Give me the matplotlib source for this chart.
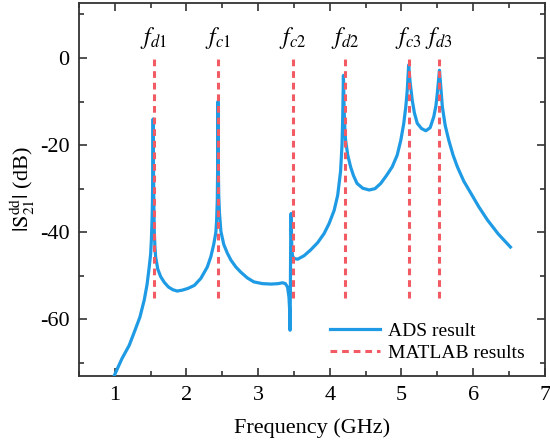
import matplotlib
matplotlib.use("Agg")
import matplotlib.pyplot as plt
from matplotlib.ticker import MultipleLocator

plt.rcParams['font.family'] = ['Liberation Serif', 'DejaVu Serif']
plt.rcParams['mathtext.fontset'] = 'stix'
plt.rcParams['axes.unicode_minus'] = False

# ADS simulated |S21dd| (dB)
freq = [0.99, 1.10, 1.20, 1.27, 1.35, 1.41, 1.45, 1.48, 1.50, 1.51, 1.52, 1.525, 1.53, 1.535,
        1.54, 1.545, 1.55, 1.56, 1.57, 1.60, 1.64, 1.69, 1.75, 1.81, 1.87, 1.94, 2.02, 2.11,
        2.20, 2.29, 2.34, 2.38, 2.41, 2.42, 2.43, 2.435, 2.44, 2.445, 2.45, 2.46, 2.48, 2.52,
        2.57, 2.62, 2.69, 2.76, 2.85, 2.94, 3.06, 3.18, 3.28, 3.34, 3.38, 3.41, 3.43, 3.44,
        3.445, 3.45, 3.455, 3.46, 3.465, 3.47, 3.48, 3.50, 3.55, 3.64, 3.73, 3.83, 3.92, 3.99,
        4.06, 4.11, 4.15, 4.17, 4.18, 4.19, 4.20, 4.21, 4.22, 4.25, 4.29, 4.33, 4.38, 4.46,
        4.55, 4.63, 4.71, 4.79, 4.87, 4.94, 4.99, 5.03, 5.06, 5.08, 5.10, 5.12, 5.15, 5.18,
        5.22, 5.28, 5.34, 5.40, 5.45, 5.48, 5.50, 5.52, 5.53, 5.55, 5.57, 5.61, 5.66, 5.72,
        5.78, 5.87, 5.97, 6.08, 6.20, 6.35, 6.52]
s21 = [-73.0, -69.0, -66.0, -63.0, -59.5, -55.6, -52.0, -48.0, -45.0, -41.8, -37.0, -33.0, -25.0, -14.0,
       -26.0, -34.0, -39.5, -43.5, -45.7, -48.5, -50.2, -51.5, -52.6, -53.2, -53.5, -53.3, -52.9, -52.2,
       -50.6, -48.0, -45.6, -42.8, -40.0, -37.5, -32.6, -25.0, -10.0, -26.0, -31.5, -35.5, -39.8, -42.8,
       -44.8, -46.4, -48.0, -49.2, -50.5, -51.4, -51.8, -51.9, -51.8, -51.6, -51.8, -52.6, -54.9, -58.0,
       -62.5, -52.0, -40.0, -35.7, -40.0, -44.0, -45.5, -46.0, -46.2, -45.4, -44.1, -42.4, -40.3, -38.0,
       -35.0, -31.5, -26.0, -20.0, -13.5, -4.0, -12.0, -16.5, -18.9, -22.3, -25.0, -27.0, -28.8, -29.9,
       -30.3, -30.0, -28.8, -27.0, -25.0, -22.3, -18.9, -15.2, -11.2, -7.5, -1.6, -5.5, -9.7, -12.6,
       -15.0, -16.2, -16.7, -16.0, -13.5, -11.0, -8.1, -4.5, -2.8, -7.0, -11.2, -15.5, -18.9, -22.3,
       -25.0, -28.3, -31.1, -34.2, -37.2, -40.4, -43.4]

# MATLAB resonance frequencies (GHz) and their labels
res_freq = [1.54, 2.44, 3.48, 4.21, 5.10, 5.52]
res_labels = [r'$f_{d1}$', r'$f_{c1}$', r'$f_{c2}$', r'$f_{d2}$', r'$f_{c3}$', r'$f_{d3}$']
res_top = 0
res_bottom = -55

fig = plt.figure(figsize=(5.5, 4.46), dpi=100)
ax = fig.add_axes([0.1436, 0.157, 0.847, 0.836])

blue = '#1E9BE4'
red = '#F25A64'

ax.plot(freq, s21, color=blue, lw=2.3, label='ADS result', zorder=3)
for i, f in enumerate(res_freq):
    ax.plot([f, f], [res_bottom, res_top], color=red, lw=2.2, ls=(0, (2.2, 1.6)),
            label='MATLAB results' if i == 0 else None, zorder=4)
    ax.text(f, 1.6, res_labels[i], ha='center', va='bottom', fontsize=17)

ax.set_xlim(0.5, 7)
ax.set_ylim(-73, 12.6)
ax.xaxis.set_minor_locator(MultipleLocator(0.5))
ax.yaxis.set_minor_locator(MultipleLocator(10))
ax.set_xticks([1, 2, 3, 4, 5, 6, 7])
ax.set_yticks([0, -20, -40, -60])
ax.tick_params(which='both', direction='in', top=True, right=True, labelsize=16, width=1.2,
               color='#333333', pad=7)
ax.tick_params(which='major', length=6)
ax.tick_params(which='minor', length=3.5)
for sp in ax.spines.values():
    sp.set_linewidth(1.3)
    sp.set_color('#333333')

ax.set_xlabel('Frequency (GHz)', fontsize=16, labelpad=10)
ax.set_ylabel(r'$|\mathrm{S}_{21}^{\mathrm{dd}}|$ (dB)', fontsize=16, labelpad=2)

leg = ax.legend(loc='lower right', bbox_to_anchor=(0.995, -0.01), frameon=False, fontsize=14,
                handlelength=2.6, handletextpad=0.4, labelspacing=0.25)

fig.savefig('out.png', dpi=100)
